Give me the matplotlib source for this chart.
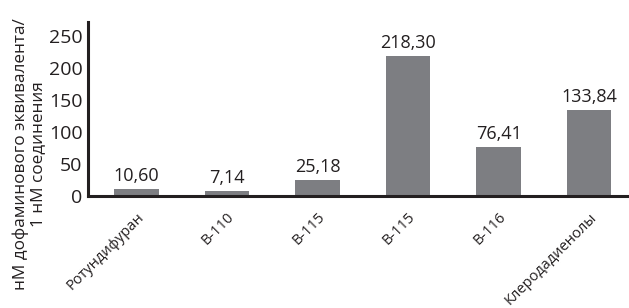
import matplotlib
matplotlib.use("Agg")
import matplotlib.pyplot as plt

categories = ["Ротундифуран", "B-110", "B-115", "B-115", "B-116", "Клеродадиенолы"]
values = [10.60, 7.14, 25.18, 218.30, 76.41, 133.84]
value_labels = ["10,60", "7,14", "25,18", "218,30", "76,41", "133,84"]
yticks = [0, 50, 100, 150, 200, 250]

plt.rcParams['font.family'] = ['Open Sans', 'DejaVu Sans']

fig = plt.figure(figsize=(6.29, 3.08), dpi=100)
ax = fig.add_axes([0.140, 0.364, 0.86, 0.565])

x = list(range(len(categories)))
bars = ax.bar(x, values, width=0.49, color='#7d7e82')
for xi, v, lab in zip(x, values, value_labels):
    ax.annotate(lab, (xi, v), xytext=(0, 3), textcoords='offset points',
                ha='center', va='bottom', fontsize=13, color='#231f20')

ax.set_xlim(-0.535, 5.44)
ax.set_ylim(0, 272)
ax.set_yticks(yticks)
ax.set_yticklabels([str(t) for t in yticks], fontsize=14, color='#231f20')
ax.set_xticks(x)
ax.set_xticklabels(categories, rotation=45, ha='right', rotation_mode='anchor',
                   fontsize=10.5, color='#231f20')
ax.tick_params(axis='both', length=0)
ax.tick_params(axis='y', pad=4)
ax.tick_params(axis='x', pad=10)
for s in ['top', 'right']:
    ax.spines[s].set_visible(False)
for s in ['left', 'bottom']:
    ax.spines[s].set_linewidth(2.2)
    ax.spines[s].set_color('#231f20')

fig.text(0.047, 0.50, "нМ дофаминового эквивалента/\n1 нМ соединения",
         rotation=90, ha='center', va='center', fontsize=12.3,
         color='#231f20', linespacing=1.12, multialignment='center')

fig.savefig("out.png", dpi=100)
